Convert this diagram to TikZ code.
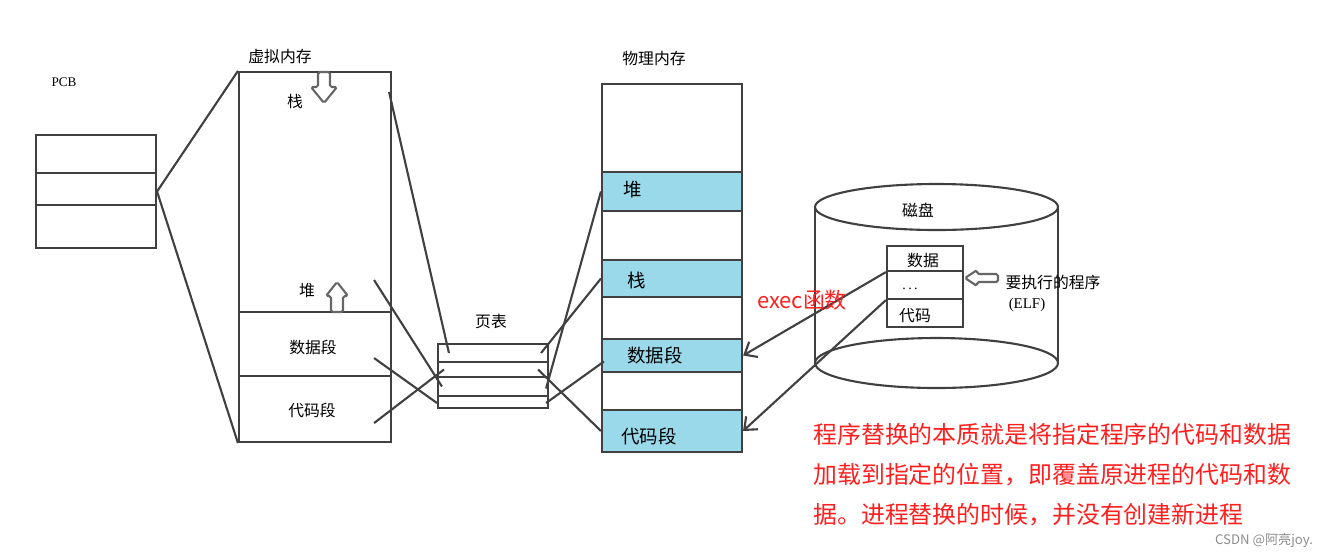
\documentclass[tikz,border=0pt]{standalone}
\usepackage{fontspec}
\setmainfont{Noto Sans CJK SC}
\newfontfamily\asciifont{Liberation Serif}
\usepackage{tikz}
\usetikzlibrary{arrows.meta, fit, calc}
\definecolor{segblue}{HTML}{99D9EA}
\definecolor{annot}{HTML}{FF1F1F}
\tikzstyle{box} = [draw=black!75, line width=1.2pt, inner sep=0pt]
\tikzstyle{band} = [box, fill=segblue]
\tikzstyle{wire} = [draw=black!75, line width=1.2pt]
\tikzstyle{arrow} = [wire, -{Straight Barb[length=6pt, width=10pt]}]
\tikzstyle{blockarr} = [draw=black!60, line width=1.2pt, fill=white, rounded corners=1pt]
\tikzstyle{lbl} = [inner sep=0pt, font=\fontsize{9}{10}\selectfont]
\tikzstyle{seglbl} = [inner sep=0pt, font=\fontsize{10.5}{12}\selectfont]
\tikzstyle{note} = [inner sep=0pt, anchor=west, text=annot, font=\fontsize{13.6}{16}\selectfont]

\begin{document}
\begin{tikzpicture}[x=0.02cm, y=-0.02cm]
                \useasboundingbox (0,0) rectangle (1337,559);

                % PCB
                \node[inner sep=0pt, font=\asciifont\fontsize{7.5}{9}\selectfont] (pcbtitle) at (64,82) {PCB};
                \node[box, fit={(36,135) (156,248)}] (pcb) {};
                \foreach \y in {173,205}
                \draw[wire] (36,\y) -- (156,\y);

                % virtual memory
                \node[lbl] (vmtitle) at (280,56) {虚拟内存};
                \node[box, fit={(239,72) (391,442)}] (vm) {};
                \foreach \y in {312,376}
                \draw[wire] (239,\y) -- (391,\y);
                \node[lbl] (vstk) at (295,101) {栈};
                \node[lbl] (vheap) at (307,291) {堆};
                \node[lbl] (vdata) at (313,347) {数据段};
                \node[lbl] (vcode) at (312,410) {代码段};
                \draw[blockarr] (318,72) -- (330,72) -- (330,87) -- (337,87) -- (324,103) -- (311,87) -- (318,87) -- cycle;
                \draw[blockarr] (331,312) -- (343,312) -- (343,296) -- (348,296) -- (337,282) -- (326,296) -- (331,296) -- cycle;

                % PCB -> virtual memory
                \draw[wire] (pcb.east) -- (vm.north west);
                \draw[wire] (pcb.east) -- (vm.south west);

                % page table
                \node[lbl] (pttitle) at (491,322) {页表};
                \foreach \i/\a/\b in {1/344/362, 2/362/377, 3/377/396, 4/396/408}
                \node[box, fit={(438,\a) (548,\b)}] (pt\i) {};

                % physical memory
                \node[lbl] (pmtitle) at (654,58) {物理内存};
                \foreach \n/\a/\b in {pheap/172/211, pstk/260/297, pdata/339/372, pcode/410/452}
                \node[band, fit={(602,\a) (742,\b)}] (\n) {};
                \node[box, fit={(602,84) (742,452)}] (pm) {};
                \node[seglbl] (pheaplbl) at (633,190) {堆};
                \node[seglbl] (pstklbl) at (637,280) {栈};
                \node[seglbl] (pdatalbl) at (655,355) {数据段};
                \node[seglbl] (pcodelbl) at (649,436) {代码段};

                % virtual memory -> page table
                \draw[wire] ($(vm.north east)+(-3,21)$) -- ($(pt1.west)+(12,0)$);
                \draw[wire] ($(vm.east)+(-18,23)$) -- ($(pt3.west)+(5,0)$);
                \draw[wire] ($(vm.south east)+(-18,-85)$) -- ($(pt4.west)+(0,1)$);
                \draw[wire] ($(vm.south east)+(-18,-20)$) -- ($(pt2.west)+(7,0)$);

                % page table -> physical memory
                \draw[wire] ($(pt1.east)+(-8,0)$) -- (pstk.west);
                \draw[wire] ($(pt3.east)+(-3,2)$) -- (pheap.west);
                \draw[wire] ($(pt2.east)+(-11,0)$) -- (pcode.west);
                \draw[wire] ($(pt4.east)+(-3,1)$) -- ($(pdata.west)+(3,6)$);

                % disk
                \draw[wire] (936.5,207) ellipse [x radius=121.5, y radius=23];
                \draw[wire] (815,207) -- (815,363);
                \draw[wire] (1058,207) -- (1058,363);
                \draw[wire] (936.5,363) ellipse [x radius=121.5, y radius=25];
                \node[lbl] (disktitle) at (918,210) {磁盘};
                \foreach \n/\a/\b in {ddata/246/271, ddots/271/299, dcode/299/327}
                \node[box, fill=white, fit={(887,\a) (963,\b)}] (\n) {};
                \node[lbl] (ddatalbl) at (923,260) {数据};
                \node[inner sep=0pt, font=\asciifont\fontsize{8}{9}\selectfont] (ddotslbl) at (910,289) {.\,.\,.};
                \node[lbl] (dcodelbl) at (915,316) {代码};
                \draw[blockarr] (965,278) -- (977,270) -- (977,274) -- (998,274) -- (998,282) -- (977,282) -- (977,286) -- cycle;
                \node[lbl] (elftitle) at (1053,282) {要执行的程序};
                \node[inner sep=0pt, font=\asciifont\fontsize{8.5}{10}\selectfont] (elf) at (1027,305) {(ELF)};

                % exec loads the program
                \draw[arrow] (ddata.south west) -- (pdata.east);
                \draw[arrow] (ddots.south west) -- (pcode.east);
                \node[inner sep=0pt, text=annot, font=\fontsize{12.5}{14}\selectfont] (exec) at (802,300) {exec函数};

                % note
                \node[note] (note1) at (813,434) {程序替换的本质就是将指定程序的代码和数据};
                \node[note] (note2) at (813,475) {加载到指定的位置，即覆盖原进程的代码和数};
                \node[note] (note3) at (813,515) {据。进程替换的时候，并没有创建新进程};

                \node[inner sep=0pt, text=black!45, font=\fontsize{7.5}{9}\selectfont] (mark) at (1264,541) {CSDN @阿亮joy.};
            \end{tikzpicture}
\end{document}
